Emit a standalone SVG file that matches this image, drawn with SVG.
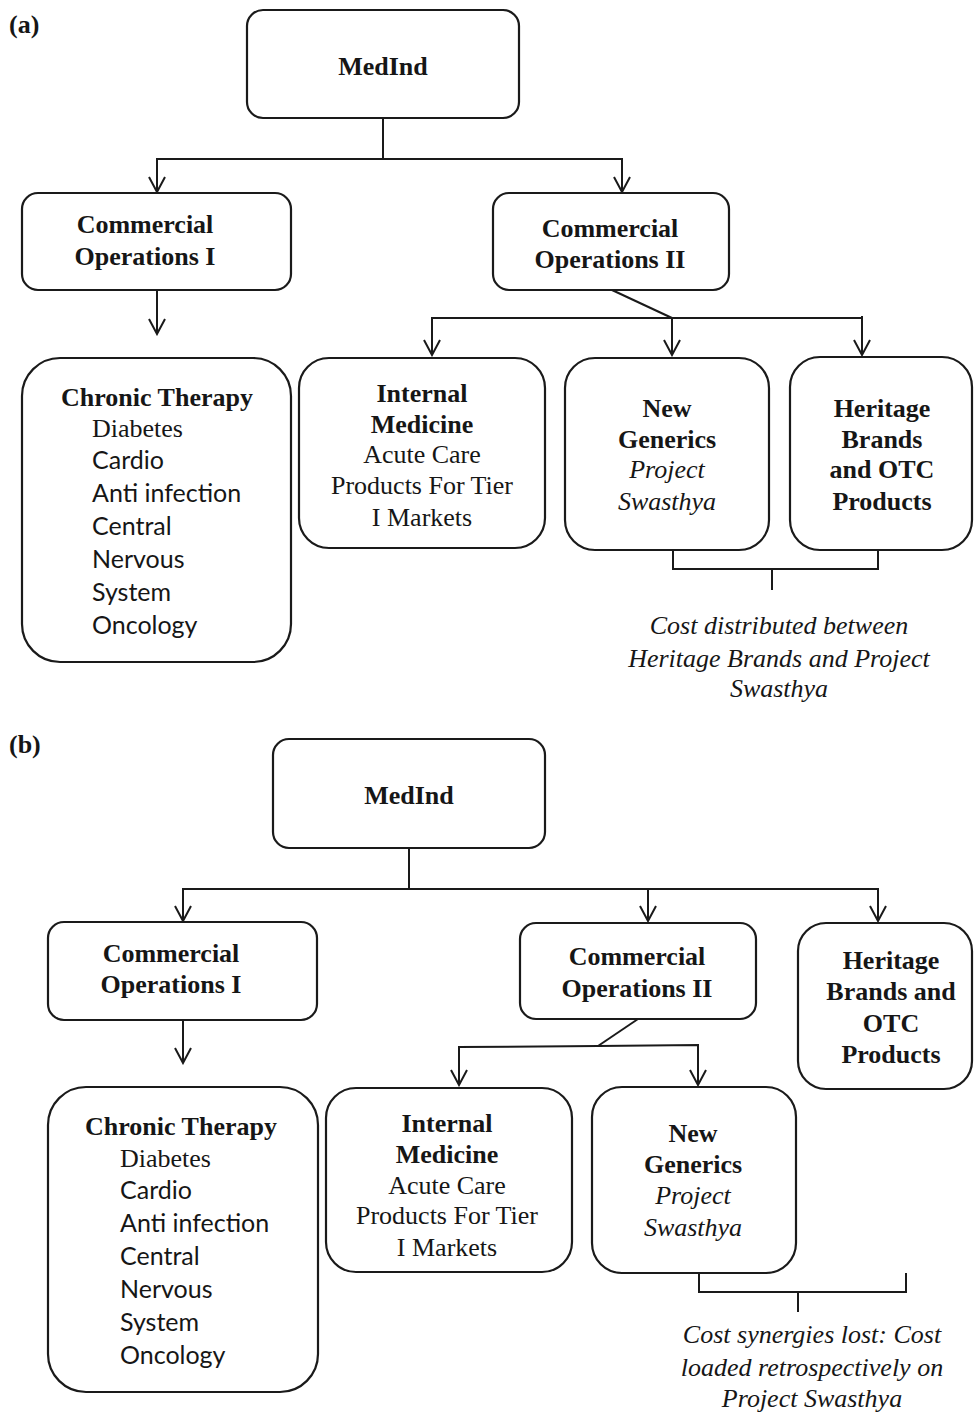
<svg xmlns="http://www.w3.org/2000/svg" width="974" height="1414" viewBox="0 0 974 1414">
<style>
  .box { fill: #ffffff; stroke: #1a1a1a; stroke-width: 2.2; }
  .conn { fill: none; stroke: #1a1a1a; stroke-width: 2; }
  .b { font-family: "Liberation Serif", "Times New Roman", serif; font-weight: bold; font-size: 26px; fill: #161616; text-anchor: middle; }
  .r { font-family: "Liberation Serif", "Times New Roman", serif; font-size: 26px; fill: #161616; text-anchor: middle; }
  .i { font-family: "Liberation Serif", "Times New Roman", serif; font-style: italic; font-size: 26px; fill: #161616; text-anchor: middle; }
  .rl { font-family: "Liberation Serif", "Times New Roman", serif; font-size: 26px; fill: #161616; }
  .s { font-family: Lato, "Open Sans", sans-serif; font-size: 25px; fill: #161616; }
  .lbl { font-family: "Liberation Serif", "Times New Roman", serif; font-weight: bold; font-size: 26px; fill: #161616; }
</style>
<defs>
  <marker id="arr" viewBox="-17 -10 19 20" refX="0" refY="0" markerWidth="19" markerHeight="20" markerUnits="userSpaceOnUse" orient="auto">
    <path d="M-15,-8 L0,0 L-15,8" fill="none" stroke="#1a1a1a" stroke-width="2"/>
  </marker>
</defs>

<text class="lbl" x="9" y="33">(a)</text>
<text class="lbl" x="9" y="753">(b)</text>

<g id="connectors">
  <!-- (a) -->
  <path class="conn" d="M383,118 V159"/>
  <path class="conn" d="M383,159 H157 V192" marker-end="url(#arr)"/>
  <path class="conn" d="M383,159 H622 V192" marker-end="url(#arr)"/>
  <path class="conn" d="M157,290 V334" marker-end="url(#arr)"/>
  <path class="conn" d="M612,290 L672,318"/>
  <path class="conn" d="M672,318 H432 V355" marker-end="url(#arr)"/>
  <path class="conn" d="M672,318 V355" marker-end="url(#arr)"/>
  <path class="conn" d="M672,318 H862 V355" marker-end="url(#arr)"/>
  <path class="conn" d="M862,316 V318"/>
  <path class="conn" d="M673,550 V569 H878 V550"/>
  <path class="conn" d="M772,569 V590"/>
  <!-- (b) -->
  <path class="conn" d="M409,848 V889"/>
  <path class="conn" d="M409,889 H183 V921" marker-end="url(#arr)"/>
  <path class="conn" d="M409,889 H878 V921" marker-end="url(#arr)"/>
  <path class="conn" d="M648,889 V921" marker-end="url(#arr)"/>
  <path class="conn" d="M183,1020 V1063" marker-end="url(#arr)"/>
  <path class="conn" d="M638,1019 L598,1046"/>
  <path class="conn" d="M598,1046 L459,1047 V1085" marker-end="url(#arr)"/>
  <path class="conn" d="M598,1046 L698,1045 V1085" marker-end="url(#arr)"/>
  <path class="conn" d="M699,1273 V1292 H906 V1273"/>
  <path class="conn" d="M798,1292 V1312"/>
</g>

<!-- (a) nodes -->
<g id="a-medind">
  <rect class="box" x="247" y="10" width="272" height="108" rx="16"/>
  <text class="b" x="383" y="75">MedInd</text>
</g>
<g id="a-comops1">
  <rect class="box" x="22" y="193" width="269" height="97" rx="16"/>
  <text class="b" x="145" y="233">Commercial</text>
  <text class="b" x="145" y="265">Operations I</text>
</g>
<g id="a-comops2">
  <rect class="box" x="493" y="193" width="236" height="97" rx="16"/>
  <text class="b" x="610" y="237">Commercial</text>
  <text class="b" x="610" y="268">Operations II</text>
</g>
<g id="a-chronic">
  <rect class="box" x="22" y="358" width="269" height="304" rx="38"/>
  <text class="b" x="157" y="406">Chronic Therapy</text>
  <text class="rl" x="92" y="437">Diabetes</text>
  <text class="s" x="92" y="469">Cardio</text>
  <text class="s" x="92" y="502">Anti infection</text>
  <text class="s" x="92" y="535">Central</text>
  <text class="s" x="92" y="568">Nervous</text>
  <text class="s" x="92" y="601">System</text>
  <text class="s" x="92" y="634">Oncology</text>
</g>
<g id="a-internal">
  <rect class="box" x="299" y="358" width="246" height="190" rx="30"/>
  <text class="b" x="422" y="402">Internal</text>
  <text class="b" x="422" y="433">Medicine</text>
  <text class="r" x="422" y="463">Acute Care</text>
  <text class="r" x="422" y="494">Products For Tier</text>
  <text class="r" x="422" y="526">I Markets</text>
</g>
<g id="a-newgen">
  <rect class="box" x="565" y="358" width="204" height="192" rx="30"/>
  <text class="b" x="667" y="417">New</text>
  <text class="b" x="667" y="448">Generics</text>
  <text class="i" x="667" y="478">Project</text>
  <text class="i" x="667" y="510">Swasthya</text>
</g>
<g id="a-heritage">
  <rect class="box" x="790" y="357" width="182" height="193" rx="30"/>
  <text class="b" x="882" y="417">Heritage</text>
  <text class="b" x="882" y="448">Brands</text>
  <text class="b" x="882" y="478">and OTC</text>
  <text class="b" x="882" y="510">Products</text>
</g>
<g id="a-caption">
  <text class="i" x="779" y="634">Cost distributed between</text>
  <text class="i" x="779" y="667">Heritage Brands and Project</text>
  <text class="i" x="779" y="697">Swasthya</text>
</g>

<!-- (b) nodes -->
<g id="b-medind">
  <rect class="box" x="273" y="739" width="272" height="109" rx="16"/>
  <text class="b" x="409" y="804">MedInd</text>
</g>
<g id="b-comops1">
  <rect class="box" x="48" y="922" width="269" height="98" rx="16"/>
  <text class="b" x="171" y="962">Commercial</text>
  <text class="b" x="171" y="993">Operations I</text>
</g>
<g id="b-comops2">
  <rect class="box" x="520" y="923" width="236" height="96" rx="16"/>
  <text class="b" x="637" y="965">Commercial</text>
  <text class="b" x="637" y="997">Operations II</text>
</g>
<g id="b-heritage">
  <rect class="box" x="798" y="923" width="174" height="166" rx="28"/>
  <text class="b" x="891" y="969">Heritage</text>
  <text class="b" x="891" y="1000">Brands and</text>
  <text class="b" x="891" y="1032">OTC</text>
  <text class="b" x="891" y="1063">Products</text>
</g>
<g id="b-chronic">
  <rect class="box" x="48" y="1087" width="270" height="305" rx="38"/>
  <text class="b" x="181" y="1135">Chronic Therapy</text>
  <text class="rl" x="120" y="1167">Diabetes</text>
  <text class="s" x="120" y="1199">Cardio</text>
  <text class="s" x="120" y="1232">Anti infection</text>
  <text class="s" x="120" y="1265">Central</text>
  <text class="s" x="120" y="1298">Nervous</text>
  <text class="s" x="120" y="1331">System</text>
  <text class="s" x="120" y="1364">Oncology</text>
</g>
<g id="b-internal">
  <rect class="box" x="326" y="1088" width="246" height="184" rx="30"/>
  <text class="b" x="447" y="1132">Internal</text>
  <text class="b" x="447" y="1163">Medicine</text>
  <text class="r" x="447" y="1194">Acute Care</text>
  <text class="r" x="447" y="1224">Products For Tier</text>
  <text class="r" x="447" y="1256">I Markets</text>
</g>
<g id="b-newgen">
  <rect class="box" x="592" y="1087" width="204" height="186" rx="30"/>
  <text class="b" x="693" y="1142">New</text>
  <text class="b" x="693" y="1173">Generics</text>
  <text class="i" x="693" y="1204">Project</text>
  <text class="i" x="693" y="1236">Swasthya</text>
</g>
<g id="b-caption">
  <text class="i" x="812" y="1343">Cost synergies lost: Cost</text>
  <text class="i" x="812" y="1376">loaded retrospectively on</text>
  <text class="i" x="812" y="1407">Project Swasthya</text>
</g>
</svg>
